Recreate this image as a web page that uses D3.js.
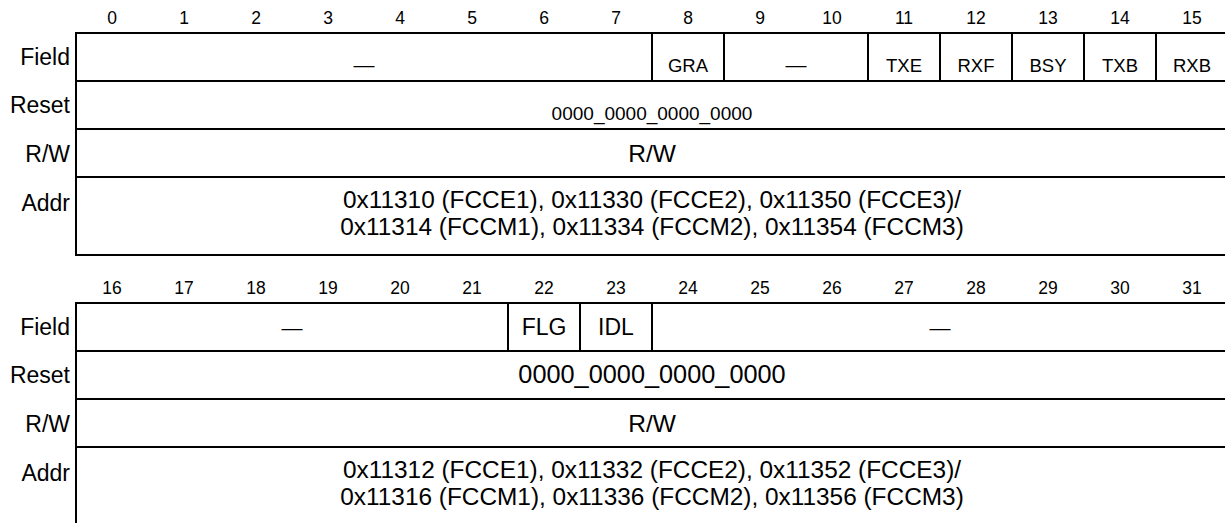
<!DOCTYPE html>
<html><head><meta charset="utf-8">
<script src="https://cdn.jsdelivr.net/npm/d3@7"></script>
<style>html,body{margin:0;padding:0;background:#fff}svg{display:block}</style>
</head><body>
<svg id="c" width="1225" height="523"></svg>
<script>
const rowLabels = ["Field", "Reset", "R/W", "Addr"];
const bitsUpper = d3.range(0, 16);
const bitsLower = d3.range(16, 32);
const fieldsUpper = [
  {name: "—", from: 0, to: 7},
  {name: "GRA", from: 8, to: 8},
  {name: "—", from: 9, to: 10},
  {name: "TXE", from: 11, to: 11},
  {name: "RXF", from: 12, to: 12},
  {name: "BSY", from: 13, to: 13},
  {name: "TXB", from: 14, to: 14},
  {name: "RXB", from: 15, to: 15}
];
const fieldsLower = [
  {name: "—", from: 16, to: 21},
  {name: "FLG", from: 22, to: 22},
  {name: "IDL", from: 23, to: 23},
  {name: "—", from: 24, to: 31}
];
const resetUpper = "0000_0000_0000_0000";
const resetLower = "0000_0000_0000_0000";
const rwUpper = "R/W";
const rwLower = "R/W";
const addrUpper = ["0x11310 (FCCE1), 0x11330 (FCCE2), 0x11350 (FCCE3)/",
                   "0x11314 (FCCM1), 0x11334 (FCCM2), 0x11354 (FCCM3)"];
const addrLower = ["0x11312 (FCCE1), 0x11332 (FCCE2), 0x11352 (FCCE3)/",
                   "0x11316 (FCCM1), 0x11336 (FCCM2), 0x11356 (FCCM3)"];

const svg = d3.select("#c");
const font = "'Liberation Sans', Arial, Helvetica, sans-serif";
const left = 76, colW = 72;
const rowH = [48, 48, 48, 78];

function drawTable(top, bits, fields, reset, rw, addr, small) {
  const x = d3.scaleBand().domain(bits).range([left, left + colW * bits.length]).paddingInner(0).paddingOuter(0);
  const x0 = x.range()[0], x1 = x.range()[1];
  const ys = [top];
  rowH.forEach(h => ys.push(ys[ys.length - 1] + h));
  const y = d3.scaleOrdinal().domain(rowLabels).range(ys.slice(0, 4));
  const labOff = [32, 32, 33, 34];
  const g = svg.append("g");

  g.selectAll("text.bit").data(bits).join("text")
    .attr("x", d => x(d) + x.bandwidth() / 2)
    .attr("y", top - 9)
    .attr("text-anchor", "middle")
    .attr("font-family", font).attr("font-size", 17.5)
    .text(d => d);

  g.selectAll("text.rl").data(rowLabels).join("text")
    .attr("x", 70)
    .attr("y", (d, i) => y(d) + labOff[i])
    .attr("text-anchor", "end")
    .attr("font-family", font).attr("font-size", 23)
    .text(d => d);

  g.selectAll("line.h").data(ys).join("line")
    .attr("x1", x0 - 1).attr("x2", x1 + 1)
    .attr("y1", d => d).attr("y2", d => d)
    .attr("stroke", "#000").attr("stroke-width", 2);
  g.append("line").attr("x1", x0).attr("x2", x0).attr("y1", ys[0]).attr("y2", ys[4])
    .attr("stroke", "#000").attr("stroke-width", 2);
  g.append("line").attr("x1", x1).attr("x2", x1).attr("y1", ys[0]).attr("y2", ys[4])
    .attr("stroke", "#000").attr("stroke-width", 2);

  g.selectAll("line.fd").data(fields.slice(1)).join("line")
    .attr("x1", d => x(d.from)).attr("x2", d => x(d.from))
    .attr("y1", ys[0]).attr("y2", ys[1])
    .attr("stroke", "#000").attr("stroke-width", 2);

  const fs = small ? 18.5 : 23;
  const fy = small ? 39 : 32;
  g.selectAll("text.f").data(fields).join("text")
    .attr("x", d => (x(d.from) + x(d.to) + x.bandwidth()) / 2)
    .attr("y", ys[0] + fy)
    .attr("text-anchor", "middle")
    .attr("font-family", font).attr("font-size", d => d.name === "—" ? 21 : fs)
    .text(d => d.name);

  const cx = (x0 + x1) / 2;
  g.append("text").attr("x", cx).attr("y", ys[1] + (small ? 39 : 32))
    .attr("text-anchor", "middle").attr("font-family", font)
    .attr("font-size", small ? 19 : 25.3).text(reset);
  g.append("text").attr("x", cx).attr("y", ys[2] + 33)
    .attr("text-anchor", "middle").attr("font-family", font)
    .attr("font-size", 24.5).text(rw);
  g.selectAll("text.a").data(addr).join("text")
    .attr("x", cx).attr("y", (d, i) => ys[3] + 31 + i * 27)
    .attr("text-anchor", "middle").attr("font-family", font)
    .attr("font-size", 24.4).text(d => d);
}

drawTable(33, bitsUpper, fieldsUpper, resetUpper, rwUpper, addrUpper, true);
drawTable(303, bitsLower, fieldsLower, resetLower, rwLower, addrLower, false);
</script>
</body></html>
